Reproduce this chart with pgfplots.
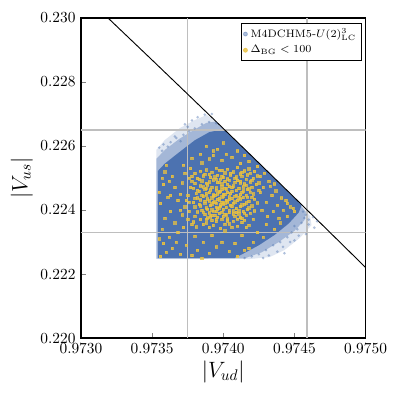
\documentclass[border=0pt]{standalone}
\usepackage{pgfplots}
\pgfplotsset{compat=1.18}
\definecolor{cblue}{HTML}{4C72B0}
\definecolor{cyel}{HTML}{EAC13F}
\definecolor{cgrid}{HTML}{BEBEBE}

\begin{document}
\begin{tikzpicture}
\begin{axis}[
    scale only axis,
    width=185pt, height=208pt,
    xmin=0.9730, xmax=0.9750,
    ymin=0.220, ymax=0.230,
    xtick={0.9730,0.9735,0.9740,0.9745,0.9750},
    ytick={0.220,0.222,0.224,0.226,0.228,0.230},
    scaled x ticks=false, scaled y ticks=false,
    x tick label style={/pgf/number format/.cd, fixed, fixed zerofill, precision=4},
    y tick label style={/pgf/number format/.cd, fixed, fixed zerofill, precision=3},
    tick pos=left,
    tick align=inside,
    major tick length=3.5pt,
    axis line style={line width=0.9pt},
    xlabel={$|V_{ud}|$}, ylabel={$|V_{us}|$},
    label style={font=\Large},
    xlabel style={yshift=2pt},
    ylabel style={yshift=-2pt},
    legend style={at={(0.985,0.985)}, anchor=north east, font=\scriptsize,
        draw=black, line width=0.5pt, cells={anchor=west}, row sep=-0.5pt,
        inner sep=1.2pt},
    clip=true,
]
% diffuse edge of the blue cloud
\addplot[draw=none, fill=cblue, fill opacity=0.18, forget plot] coordinates {
(0.97353,0.22247) (0.97353,0.22588) (0.97359,0.22619) (0.973695,0.22656)
(0.97380,0.22681) (0.973884,0.22697) (0.97395,0.22677) (0.97410,0.22612)
(0.97420,0.22570) (0.97430,0.22526) (0.97440,0.22482) (0.97450,0.22439)
(0.97461,0.22381) (0.97462,0.22353) (0.974537,0.223125) (0.97443,0.22275)
(0.974326,0.22253) (0.974186,0.22247) } -- cycle;
\addplot[draw=none, fill=cblue, fill opacity=0.4, forget plot] coordinates {
(0.97353,0.22248) (0.97353,0.22560) (0.97359,0.22588) (0.97369,0.22622)
(0.97380,0.22652) (0.97388,0.22672) (0.97395,0.22677) (0.97410,0.22612)
(0.97420,0.22570) (0.97430,0.22526) (0.97440,0.22482) (0.97450,0.22439)
(0.97458,0.22394) (0.97457,0.22368) (0.97450,0.22335) (0.97439,0.22300)
(0.97427,0.22268) (0.97415,0.22249) } -- cycle;
% dense core of the blue cloud
\addplot[draw=none, fill=cblue, forget plot] coordinates {
(0.97354,0.22250) (0.97354,0.22522) (0.973589,0.22545) (0.97368,0.22577)
(0.97380,0.22618) (0.97390,0.22643) (0.97400,0.22653) (0.97410,0.22610)
(0.97420,0.22568) (0.97430,0.22524) (0.97440,0.22480) (0.97450,0.22437)
(0.97455,0.22415) (0.97453,0.22392) (0.97446,0.22358) (0.97436,0.22322)
(0.97425,0.22290) (0.97415,0.22266) (0.97408,0.22250) } -- cycle;
% scattered blue points at the rim
\addplot[only marks, mark=*, mark size=0.7pt, color=cblue, opacity=0.3, forget plot] coordinates {
(0.97355,0.22595) (0.97358,0.22605) (0.97363,0.22612) (0.97357,0.22585)
(0.97367,0.22625) (0.97372,0.22635) (0.97376,0.22645) (0.97380,0.22655)
(0.97385,0.22668) (0.97390,0.22675) (0.97370,0.22615) (0.97361,0.22598)
(0.97366,0.22630) (0.97375,0.22660) (0.97382,0.22690) (0.97387,0.22698)
(0.97378,0.22680) (0.97395,0.22671) (0.97373,0.22668) (0.97392,0.22700)
(0.97456,0.22395) (0.97458,0.22385) (0.97460,0.22370) (0.97455,0.22360)
(0.97452,0.22340) (0.97448,0.22330) (0.97445,0.22315) (0.97440,0.22300)
(0.97435,0.22290) (0.97430,0.22275) (0.97425,0.22262) (0.97420,0.22255)
(0.97450,0.22350) (0.97457,0.22375) (0.97442,0.22285) (0.97438,0.22270)
(0.97432,0.22258) (0.97447,0.22300) (0.97453,0.22320) (0.97460,0.22355)
(0.97463,0.22378) (0.97443,0.22265) (0.97428,0.22250) (0.97415,0.22250)
(0.97466,0.22365) (0.97464,0.22345) (0.97458,0.22325) (0.97450,0.22305)
};
% Delta_BG < 100 points
\addplot[only marks, mark=square*, mark size=0.75pt, color=cyel, opacity=0.75, forget plot] coordinates {
(0.97395,0.22531) (0.97403,0.22528) (0.97410,0.22533) (0.97388,0.22526) (0.97418,0.22529)
(0.97384,0.22521) (0.97399,0.22524) (0.97407,0.22519) (0.97415,0.22523) (0.97392,0.22518) (0.97422,0.22520)
(0.97380,0.22514) (0.97390,0.22511) (0.97401,0.22516) (0.97412,0.22513) (0.97396,0.22509) (0.97419,0.22515)
(0.97386,0.22507) (0.97394,0.22504) (0.97405,0.22509) (0.97413,0.22506) (0.97400,0.22502) (0.97424,0.22507) (0.97378,0.22505)
(0.97382,0.22499) (0.97391,0.22502) (0.97398,0.22497) (0.97408,0.22500) (0.97416,0.22496) (0.97404,0.22493) (0.97421,0.22499)
(0.97385,0.22491) (0.97393,0.22494) (0.97401,0.22489) (0.97410,0.22492) (0.97419,0.22488) (0.97397,0.22486) (0.97388,0.22484)
(0.97380,0.22483) (0.97389,0.22479) (0.97396,0.22486) (0.97403,0.22481) (0.97412,0.22484) (0.97407,0.22476) (0.97423,0.22480) (0.97416,0.22478)
(0.97384,0.22476) (0.97392,0.22472) (0.97399,0.22475) (0.97406,0.22470) (0.97414,0.22473) (0.97401,0.22468) (0.97420,0.22471) (0.97388,0.22467)
(0.97379,0.22468) (0.97387,0.22465) (0.97395,0.22462) (0.97402,0.22466) (0.97409,0.22461) (0.97417,0.22464) (0.97398,0.22459) (0.97425,0.22462)
(0.97383,0.22458) (0.97390,0.22455) (0.97397,0.22457) (0.97405,0.22452) (0.97413,0.22456) (0.97421,0.22451) (0.97400,0.22450) (0.97393,0.22448)
(0.97381,0.22452) (0.97388,0.22447) (0.97394,0.22445) (0.97401,0.22449) (0.97408,0.22443) (0.97416,0.22446) (0.97404,0.22441) (0.97411,0.22440)
(0.97386,0.22442) (0.97392,0.22438) (0.97399,0.22441) (0.97406,0.22436) (0.97414,0.22439) (0.97422,0.22434) (0.97396,0.22433) (0.97380,0.22437)
(0.97384,0.22432) (0.97390,0.22429) (0.97397,0.22431) (0.97403,0.22426) (0.97410,0.22430) (0.97418,0.22427) (0.97401,0.22423) (0.97393,0.22425)
(0.97379,0.22424) (0.97387,0.22421) (0.97394,0.22426) (0.97400,0.22419) (0.97407,0.22422) (0.97415,0.22418) (0.97424,0.22423) (0.97398,0.22416)
(0.97383,0.22417) (0.97391,0.22414) (0.97398,0.22412) (0.97405,0.22415) (0.97412,0.22411) (0.97420,0.22413) (0.97395,0.22409)
(0.97380,0.22410) (0.97388,0.22407) (0.97396,0.22404) (0.97402,0.22408) (0.97409,0.22405) (0.97417,0.22402) (0.97392,0.22401)
(0.97385,0.22400) (0.97393,0.22397) (0.97400,0.22402) (0.97407,0.22398) (0.97414,0.22395) (0.97399,0.22393) (0.97422,0.22398)
(0.97382,0.22394) (0.97390,0.22391) (0.97397,0.22389) (0.97404,0.22392) (0.97411,0.22388) (0.97419,0.22390)
(0.97387,0.22386) (0.97394,0.22383) (0.97401,0.22387) (0.97408,0.22381) (0.97416,0.22384) (0.97391,0.22379)
(0.97380,0.22381) (0.97389,0.22376) (0.97396,0.22378) (0.97403,0.22373) (0.97412,0.22377) (0.97421,0.22372)
(0.97384,0.22370) (0.97392,0.22367) (0.97399,0.22371) (0.97407,0.22365) (0.97415,0.22368)
(0.97379,0.22363) (0.97388,0.22360) (0.97395,0.22364) (0.97404,0.22357) (0.97413,0.22361)
(0.97386,0.22355) (0.97393,0.22352) (0.97401,0.22356) (0.97410,0.22350) (0.97418,0.22353)
(0.97381,0.22348) (0.97390,0.22345) (0.97398,0.22342) (0.97406,0.22347)
(0.97397,0.22525) (0.97405,0.22515) (0.97413,0.22518) (0.97387,0.22512) (0.97399,0.22506) (0.97409,0.22504)
(0.97417,0.22510) (0.97383,0.22495) (0.97395,0.22497) (0.97403,0.22498) (0.97412,0.22490) (0.97420,0.22493)
(0.97390,0.22488) (0.97399,0.22482) (0.97408,0.22487) (0.97415,0.22482) (0.97386,0.22473) (0.97395,0.22469)
(0.97404,0.22474) (0.97411,0.22467) (0.97418,0.22466) (0.97382,0.22462) (0.97391,0.22463) (0.97399,0.22464)
(0.97406,0.22458) (0.97414,0.22460) (0.97388,0.22452) (0.97396,0.22451) (0.97403,0.22455) (0.97412,0.22449)
(0.97419,0.22456) (0.97385,0.22446) (0.97393,0.22443) (0.97400,0.22444) (0.97409,0.22447) (0.97417,0.22440)
(0.97382,0.22438) (0.97389,0.22435) (0.97397,0.22437) (0.97404,0.22433) (0.97412,0.22435) (0.97420,0.22440)
(0.97387,0.22428) (0.97395,0.22422) (0.97402,0.22430) (0.97408,0.22426) (0.97416,0.22423) (0.97384,0.22413)
(0.97392,0.22419) (0.97399,0.22424) (0.97406,0.22411) (0.97413,0.22416) (0.97389,0.22403) (0.97397,0.22407)
(0.97404,0.22400) (0.97411,0.22398) (0.97418,0.22407) (0.97386,0.22393) (0.97395,0.22395) (0.97402,0.22385)
(0.97409,0.22392) (0.97415,0.22390) (0.97392,0.22383) (0.97400,0.22380) (0.97407,0.22388) (0.97413,0.22374)
(0.97395,0.22370) (0.97403,0.22366) (0.97410,0.22372) (0.97388,0.22372) (0.97377,0.22470) (0.97375,0.22445)
(0.97376,0.22500) (0.97373,0.22515) (0.97378,0.22490) (0.97376,0.22395) (0.97378,0.22355) (0.97374,0.22430)
(0.97426,0.22505) (0.97432,0.22490) (0.97428,0.22470) (0.97437,0.22460) (0.97434,0.22445) (0.97441,0.22438)
(0.97430,0.22425) (0.97438,0.22415) (0.97445,0.22420) (0.97427,0.22400) (0.97435,0.22395) (0.97442,0.22400)
(0.97431,0.22380) (0.97447,0.22410) (0.97439,0.22375) (0.97426,0.22455) (0.97433,0.22475) (0.97436,0.22482)
(0.97429,0.22515) (0.97444,0.22430) (0.97449,0.22405) (0.97425,0.22485)
(0.97372,0.22540) (0.97385,0.22548) (0.97399,0.22556) (0.97412,0.22545) (0.97424,0.22536) (0.97378,0.22562)
(0.97393,0.22570) (0.97406,0.22565) (0.97418,0.22552) (0.97390,0.22560) (0.97402,0.22575) (0.97396,0.22590)
(0.97410,0.22585) (0.97415,0.22570) (0.97384,0.22575) (0.97388,0.22600) (0.97400,0.22610) (0.97393,0.22585)
(0.97359,0.22519) (0.97355,0.22456) (0.97362,0.22490) (0.97366,0.22470) (0.97370,0.22450) (0.97368,0.22430)
(0.97373,0.22410) (0.97364,0.22505) (0.97377,0.22530) (0.97360,0.22540) (0.97357,0.22500) (0.97371,0.22485)
(0.97356,0.22255) (0.97360,0.22268) (0.97364,0.22280) (0.97358,0.22295) (0.97367,0.22300) (0.97362,0.22315)
(0.97370,0.22262) (0.97374,0.22290) (0.97368,0.22330) (0.97357,0.22340) (0.97372,0.22345) (0.97378,0.22258)
(0.97382,0.22275) (0.97386,0.22300) (0.97380,0.22318) (0.97390,0.22265) (0.97395,0.22285) (0.97392,0.22320)
(0.97399,0.22300) (0.97404,0.22270) (0.97401,0.22335) (0.97408,0.22295) (0.97413,0.22320) (0.97418,0.22280)
(0.97416,0.22345) (0.97424,0.22330) (0.97421,0.22300) (0.97430,0.22355) (0.97428,0.22315) (0.97436,0.22340)
(0.97366,0.22360) (0.97359,0.22375) (0.97375,0.22370) (0.97363,0.22395) (0.97370,0.22400) (0.97356,0.22420)
(0.97361,0.22440) (0.97358,0.22480) (0.97363,0.22445) (0.97371,0.22385) (0.97376,0.22425) (0.97355,0.22310)
(0.97385,0.22250) (0.97410,0.22255) (0.97440,0.22360) (0.97445,0.22380) (0.97450,0.22395) (0.97415,0.22275)
};
% grid lines on top of the points
\addplot[cgrid, line width=1pt, forget plot] coordinates {(0.97375,0.220) (0.97375,0.230)};
\addplot[cgrid, line width=1pt, forget plot] coordinates {(0.97459,0.220) (0.97459,0.230)};
\addplot[cgrid, line width=1pt, forget plot] coordinates {(0.9730,0.2265) (0.9750,0.2265)};
\addplot[cgrid, line width=1pt, forget plot] coordinates {(0.9730,0.2233) (0.9750,0.2233)};
% unitarity boundary |Vud|^2+|Vus|^2=1
\addplot[black, line width=0.6pt, forget plot] coordinates {
(0.9731,0.230383) (0.9735,0.228687) (0.97375,0.227620) (0.9740,0.226548)
(0.97425,0.225471) (0.9745,0.224388) (0.97475,0.223299) (0.9750,0.222205)};
\addlegendimage{only marks, mark=*, mark size=1.3pt, color=cblue, opacity=0.45}
\addlegendentry{M4DCHM5-$U(2)^3_{\mathrm{LC}}$}
\addlegendimage{only marks, mark=*, mark size=1.3pt, color=cyel, opacity=0.8}
\addlegendentry{$\Delta_{\mathrm{BG}} < 100$}
\end{axis}
\path ([xshift=-52.6pt,yshift=-39.6pt]current axis.south west)
      ([xshift=20.8pt,yshift=11.7pt]current axis.north east);
\end{tikzpicture}
\end{document}
